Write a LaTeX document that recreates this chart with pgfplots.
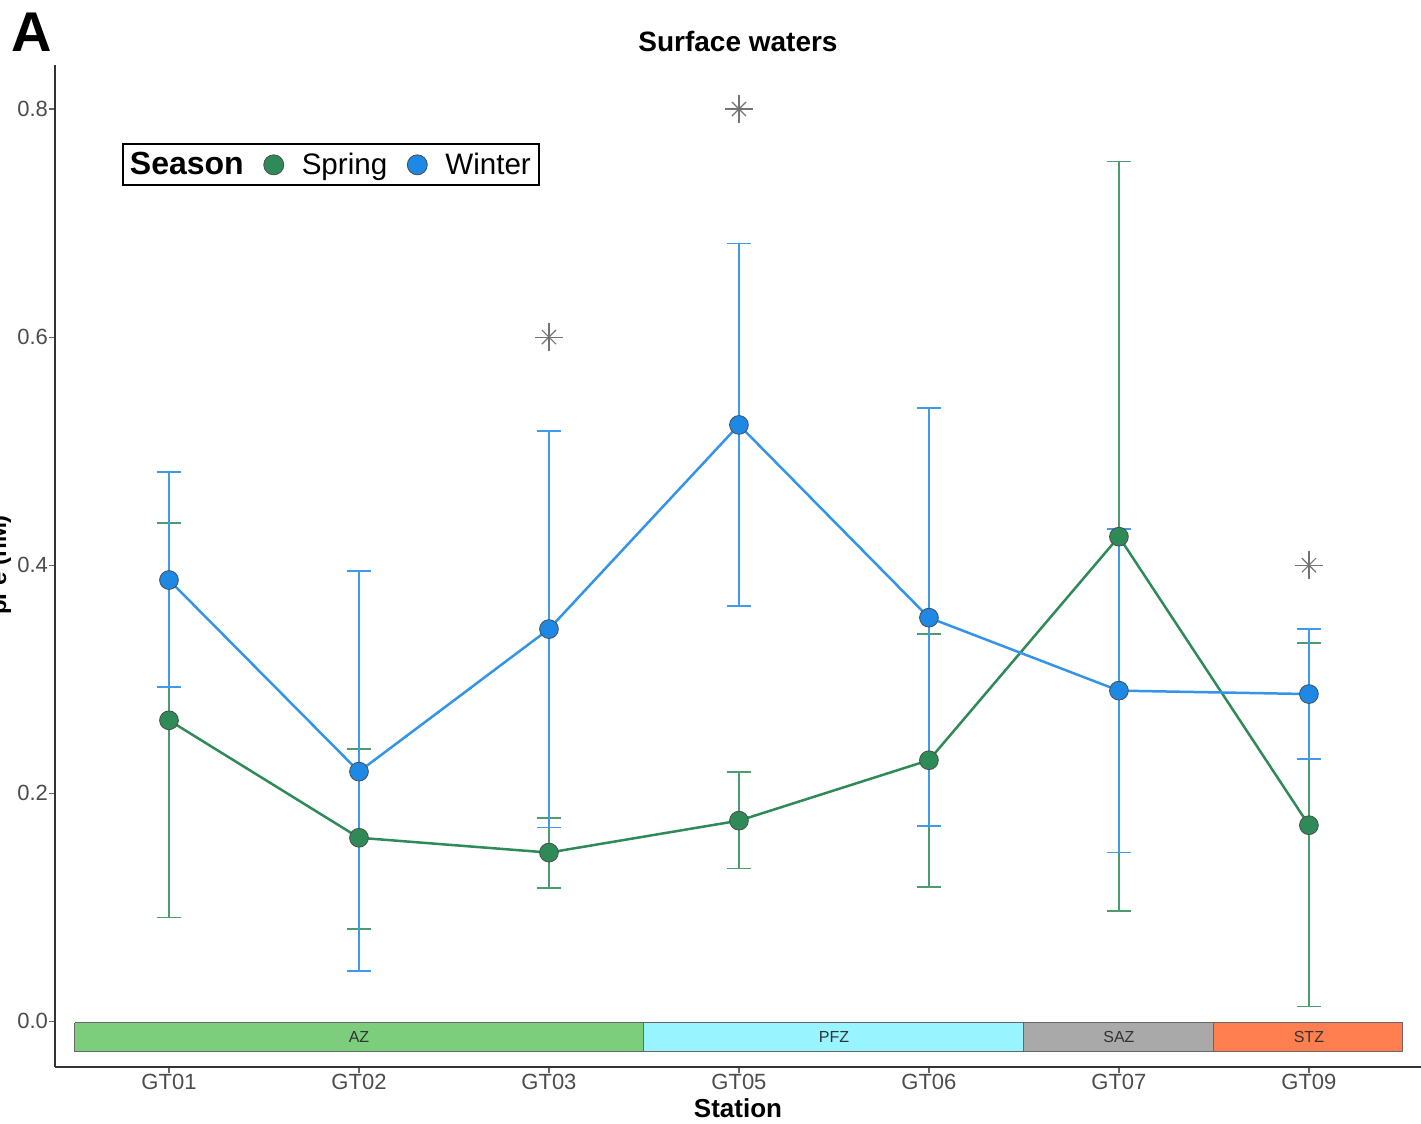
\documentclass[border=0pt]{standalone}
\usepackage{pgfplots}
\pgfplotsset{compat=1.18}
\usepackage{pgfplotstable}
\usepackage{fontspec}
\setmainfont{Liberation Sans}
\definecolor{wblue}{RGB}{30,136,229}
\definecolor{sgreen}{RGB}{46,139,87}
\definecolor{zaz}{RGB}{124,205,124}
\definecolor{zpfz}{RGB}{152,245,255}
\definecolor{zsaz}{RGB}{169,169,169}
\definecolor{zstz}{RGB}{255,127,80}

\pgfplotstableread{
x y ep em
0 0.387 0.095 0.094
1 0.219 0.176 0.175
2 0.344 0.174 0.174
3 0.523 0.159 0.159
4 0.354 0.184 0.183
5 0.290 0.142 0.142
6 0.287 0.057 0.057
}\winter
\pgfplotstableread{
x y ep em
0 0.264 0.173 0.173
1 0.161 0.078 0.080
2 0.148 0.030 0.031
3 0.176 0.043 0.042
4 0.229 0.111 0.111
5 0.425 0.329 0.328
6 0.172 0.160 0.159
}\spring
\pgfplotstableread{
x y
2 0.6
3 0.8
6 0.4
}\stars

\begin{document}
\begin{tikzpicture}
\begin{axis}[
  at={(0,0)}, anchor=south west,
  width=683pt, height=501pt, scale only axis,
  xmin=-0.6, xmax=6.59, ymin=-0.040, ymax=0.8386,
  clip=false,
  axis x line*=bottom, axis y line*=left,
  axis line style={black!80, line width=0.75pt, -},
  xtick={0,1,2,3,4,5,6},
  xticklabels={GT01,GT02,GT03,GT05,GT06,GT07,GT09},
  ytick={0,0.2,0.4,0.6,0.8},
  yticklabel style={xshift=3pt, /pgf/number format/.cd, fixed, fixed zerofill, precision=1},
  /pgf/number format/assume math mode=true,
  tick align=outside, major tick length=3pt,
  tick style={black!60, line width=0.6pt},
  ticklabel style={font=\fontsize{11}{13}\selectfont, text=black!70},
  xticklabel style={yshift=3pt},
  legend style={at={(0.049,0.922)}, anchor=north west, draw=black, line width=1pt,
    font=\fontsize{14.8}{16}\selectfont, inner sep=2pt,
    /tikz/every odd column/.append style={column sep=7pt},
    /tikz/every even column/.append style={column sep=8pt}},
  legend columns=-1,
]
% zone bar
\addplot[fill=zaz, draw=black!60, line width=0.5pt, forget plot] coordinates {(-0.495,-0.001) (2.5,-0.001) (2.5,-0.026) (-0.495,-0.026) (-0.495,-0.001)};
\addplot[fill=zpfz, draw=black!60, line width=0.5pt, forget plot] coordinates {(2.5,-0.001) (4.5,-0.001) (4.5,-0.026) (2.5,-0.026) (2.5,-0.001)};
\addplot[fill=zsaz, draw=black!60, line width=0.5pt, forget plot] coordinates {(4.5,-0.001) (5.5,-0.001) (5.5,-0.026) (4.5,-0.026) (4.5,-0.001)};
\addplot[fill=zstz, draw=black!60, line width=0.5pt, forget plot] coordinates {(5.5,-0.001) (6.495,-0.001) (6.495,-0.026) (5.5,-0.026) (5.5,-0.001)};
\node[font=\fontsize{8}{9}\selectfont, text=black!80] at (axis cs:1,-0.0135) {AZ};
\node[font=\fontsize{8}{9}\selectfont, text=black!80] at (axis cs:3.5,-0.0135) {PFZ};
\node[font=\fontsize{8}{9}\selectfont, text=black!80] at (axis cs:5,-0.0135) {SAZ};
\node[font=\fontsize{8}{9}\selectfont, text=black!80] at (axis cs:6,-0.0135) {STZ};

% error bars
\addplot[only marks, mark=none, forget plot,
  error bars/.cd, y dir=both, y explicit,
  error bar style={color=sgreen!85!white, line width=0.9pt},
  error mark options={rotate=90, mark size=6pt, color=sgreen!85!white, line width=0.9pt}]
  table[x=x, y=y, y error plus=ep, y error minus=em]{\spring};
\addplot[only marks, mark=none, forget plot,
  error bars/.cd, y dir=both, y explicit,
  error bar style={color=wblue!85!white, line width=0.9pt},
  error mark options={rotate=90, mark size=6pt, color=wblue!85!white, line width=0.9pt}]
  table[x=x, y=y, y error plus=ep, y error minus=em]{\winter};

% lines
\addplot[sgreen, line width=1.25pt, mark=none, forget plot] table[x=x, y=y]{\spring};
\addplot[wblue!90!white, line width=1.25pt, mark=none, forget plot] table[x=x, y=y]{\winter};

% points
\addplot[only marks, mark=*, mark size=4.7pt, mark options={fill=sgreen, draw=black!70, line width=0.4pt}, forget plot] table[x=x, y=y]{\spring};
\addplot[only marks, mark=*, mark size=4.7pt, mark options={fill=wblue, draw=black!70, line width=0.4pt}, forget plot] table[x=x, y=y]{\winter};

% significance asterisks
\addplot[only marks, mark=+, mark size=7pt, mark options={black!55, line width=0.6pt}, forget plot] table[x=x, y=y]{\stars};
\addplot[only marks, mark=x, mark size=5pt, mark options={black!55, line width=0.6pt}, forget plot] table[x=x, y=y]{\stars};

% legend
\addlegendimage{empty legend}
\addlegendentry{\hspace*{-7.5pt}\fontsize{16}{18}\selectfont\bfseries Season}
\addlegendimage{only marks, mark=*, mark size=5pt, mark options={fill=sgreen, draw=black!70, line width=0.4pt}}
\addlegendentry{Spring}
\addlegendimage{only marks, mark=*, mark size=5pt, mark options={fill=wblue, draw=black!70, line width=0.4pt}}
\addlegendentry{Winter}

% texts
\node[font=\fontsize{14}{16}\selectfont\bfseries, anchor=base] at (rel axis cs:0.5,1.013) {Surface waters};
\node[font=\fontsize{13}{15}\selectfont\bfseries, anchor=base] at (rel axis cs:0.5,-0.05) {Station};
\node[font=\fontsize{28}{30}\selectfont\bfseries] at (rel axis cs:-0.0168,1.033) {A};
\node[font=\fontsize{12}{14}\selectfont\bfseries, rotate=90, anchor=south] at (rel axis cs:-0.027,0.501) {pFe (nM)};
\end{axis}
\pgfresetboundingbox
\path[use as bounding box] (-27.5pt,-28.5pt) rectangle (683pt,533.5pt);
\end{tikzpicture}
\end{document}
